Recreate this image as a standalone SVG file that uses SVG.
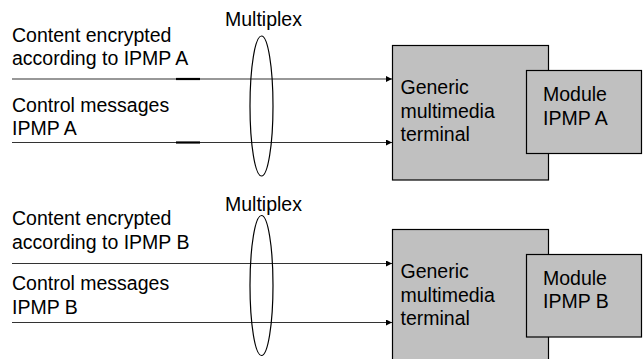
<svg xmlns="http://www.w3.org/2000/svg" width="643" height="359" viewBox="0 0 643 359">
<defs>
<style>
text{font-family:"Liberation Sans",Arial,sans-serif;font-size:19.5px;fill:#000}
.box{fill:#c0c0c0;stroke:#000;stroke-width:1.2}
.ln{stroke:#333;stroke-width:1.2;fill:none}
.thick{stroke:#000;stroke-width:2.2}
.ell{fill:none;stroke:#000;stroke-width:1.2}
</style>
<marker id="arr" viewBox="0 0 8 8" refX="8" refY="4" markerWidth="6" markerHeight="6" markerUnits="userSpaceOnUse" orient="auto">
<path d="M0,0 L8,4 L0,8 z" fill="#000"/>
</marker>
</defs>
<rect width="643" height="359" fill="#fff"/>
<g id="terminalA">
<rect class="box" x="392.5" y="45.5" width="156" height="134.5"/>
<text x="400.5" y="94">Generic</text>
<text x="400.5" y="117.5">multimedia</text>
<text x="400.5" y="141">terminal</text>
</g>
<g id="moduleA">
<rect class="box" x="526.5" y="70.5" width="115" height="83"/>
<text x="543" y="101">Module</text>
<text x="543" y="125">IPMP A</text>
</g>
<g id="terminalB">
<rect class="box" x="392.5" y="229.5" width="156" height="135"/>
<text x="400.5" y="278">Generic</text>
<text x="400.5" y="301.5">multimedia</text>
<text x="400.5" y="325">terminal</text>
</g>
<g id="moduleB">
<rect class="box" x="526.5" y="254.5" width="115" height="82.5"/>
<text x="543" y="284.5">Module</text>
<text x="543" y="308">IPMP B</text>
</g>
<g id="labels">
<text x="225" y="26">Multiplex</text>
<text x="12" y="41.5">Content encrypted</text>
<text x="12" y="65">according to IPMP A</text>
<text x="12" y="111.5">Control messages</text>
<text x="12" y="135">IPMP A</text>
<text x="225" y="210.5">Multiplex</text>
<text x="12" y="225">Content encrypted</text>
<text x="12" y="248.5">according to IPMP B</text>
<text x="12" y="290">Control messages</text>
<text x="12" y="313.5">IPMP B</text>
</g>
<g id="connectors">
<line class="ln" x1="12" y1="79" x2="392" y2="79" marker-end="url(#arr)"/>
<line class="ln" x1="12" y1="142.5" x2="392" y2="142.5" marker-end="url(#arr)"/>
<line class="thick" x1="176" y1="79" x2="200" y2="79"/>
<line class="thick" x1="176" y1="142.5" x2="200" y2="142.5"/>
<line class="ln" x1="12" y1="263.5" x2="392" y2="263.5" marker-end="url(#arr)"/>
<line class="ln" x1="12" y1="322.5" x2="392" y2="322.5" marker-end="url(#arr)"/>
<ellipse class="ell" cx="261.5" cy="106" rx="11.5" ry="70"/>
<ellipse class="ell" cx="261.5" cy="285.5" rx="11.5" ry="70"/>
</g>
</svg>
